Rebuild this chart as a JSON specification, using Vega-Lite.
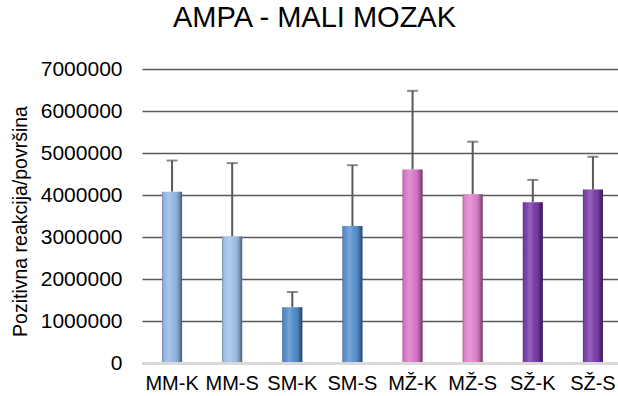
{
  "$schema": "https://vega.github.io/schema/vega-lite/v6.json",
  "autosize": "none",
  "padding": {"left": 142, "top": 69, "right": 0, "bottom": 33},
  "width": 481,
  "height": 294,
  "background": "white",
  "config": {"view": {"stroke": null}, "font": "Liberation Sans"},
  "title": {
    "text": "AMPA - MALI MOZAK",
    "fontSize": 29,
    "fontWeight": "normal",
    "font": "Liberation Sans",
    "color": "#000000",
    "anchor": "middle",
    "dx": -68,
    "offset": 25
  },
  "data": {
    "values": [
      {"group": "MM-K", "value": 4080000, "upper": 4820000},
      {"group": "MM-S", "value": 3010000, "upper": 4760000},
      {"group": "SM-K", "value": 1330000, "upper": 1690000},
      {"group": "SM-S", "value": 3260000, "upper": 4710000},
      {"group": "MŽ-K", "value": 4610000, "upper": 6480000},
      {"group": "MŽ-S", "value": 4020000, "upper": 5270000},
      {"group": "SŽ-K", "value": 3830000, "upper": 4360000},
      {"group": "SŽ-S", "value": 4130000, "upper": 4910000}
    ]
  },
  "encoding": {
    "x": {
      "field": "group",
      "type": "nominal",
      "sort": null,
      "scale": {"paddingInner": 0, "paddingOuter": 0},
      "axis": {
        "title": null,
        "labelAngle": 0,
        "labelFontSize": 20,
        "labelColor": "#000000",
        "labelPadding": 10,
        "ticks": false,
        "domainColor": "#d9d9d9",
        "domainWidth": 3,
        "zindex": 1
      }
    }
  },
  "layer": [
    {
      "mark": {"type": "rule", "color": "#595959", "strokeWidth": 2},
      "encoding": {
        "y": {"field": "value", "type": "quantitative"},
        "y2": {"field": "upper"}
      }
    },
    {
      "mark": {"type": "tick", "color": "#595959", "thickness": 2, "size": 11, "orient": "horizontal"},
      "encoding": {
        "y": {"field": "upper", "type": "quantitative"}
      }
    },
    {
      "mark": {"type": "bar", "size": 20},
      "encoding": {
        "y": {
          "field": "value",
          "type": "quantitative",
          "scale": {"domain": [0, 7000000], "nice": false},
          "axis": {
            "title": "Pozitivna reakcija/površina",
            "titleFontSize": 19.5,
            "titleFontWeight": "normal",
            "titleColor": "#000000",
            "titleAngle": -90,
            "titleX": -122,
            "titleY": 152,
            "titleAlign": "center",
            "titleBaseline": "middle",
            "values": [0, 1000000, 2000000, 3000000, 4000000, 5000000, 6000000, 7000000],
            "format": "d",
            "labelFontSize": 21,
            "labelColor": "#000000",
            "labelPadding": 20,
            "ticks": false,
            "domain": false,
            "grid": true,
            "gridColor": "#5a5a5a",
            "gridWidth": 1.3
          }
        },
        "color": {
          "field": "group",
          "type": "nominal",
          "legend": null,
          "scale": {
            "domain": ["MM-K", "MM-S", "SM-K", "SM-S", "MŽ-K", "MŽ-S", "SŽ-K", "SŽ-S"],
            "range": ["#8db3e1", "#98bce6", "#4a85c6", "#4f8acb", "#d66ec3", "#da7ac8", "#7030a0", "#7434a4"]
          }
        }
      }
    },
    {
      "mark": {
        "type": "bar",
        "size": 20,
        "fill": {
          "gradient": "linear",
          "x1": 0, "x2": 1, "y1": 0, "y2": 0,
          "stops": [
            {"offset": 0, "color": "rgba(0,0,0,0.30)"},
            {"offset": 0.12, "color": "rgba(255,255,255,0.05)"},
            {"offset": 0.35, "color": "rgba(255,255,255,0.25)"},
            {"offset": 0.6, "color": "rgba(255,255,255,0.05)"},
            {"offset": 0.85, "color": "rgba(0,0,0,0.2)"},
            {"offset": 1, "color": "rgba(0,0,0,0.5)"}
          ]
        }
      },
      "encoding": {
        "y": {"field": "value", "type": "quantitative"}
      }
    }
  ]
}
